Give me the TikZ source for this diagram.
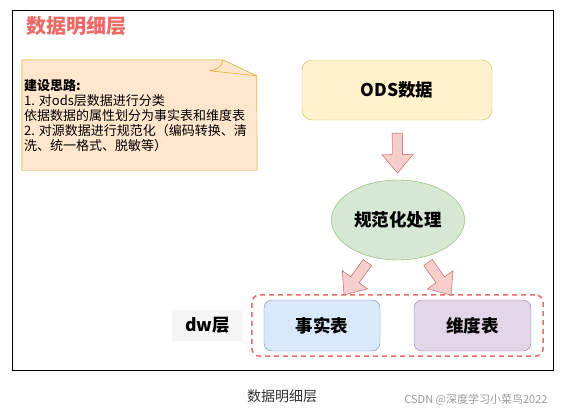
\documentclass[tikz,border=0pt]{standalone}
\usepackage{fontspec}
\setmainfont{Noto Sans CJK SC}
\usetikzlibrary{shapes.geometric,shapes.arrows,fit}

\definecolor{titlered}{HTML}{EA6B66}
\definecolor{notefill}{HTML}{FFE6CC}
\definecolor{noteline}{HTML}{D79B00}
\definecolor{odsfill}{HTML}{FFF2CC}
\definecolor{odsline}{HTML}{D6B656}
\definecolor{arrowfill}{HTML}{F8CECC}
\definecolor{arrowline}{HTML}{B85450}
\definecolor{procfill}{HTML}{D5E8D4}
\definecolor{procline}{HTML}{82B366}
\definecolor{factfill}{HTML}{DAE8FC}
\definecolor{factline}{HTML}{6C8EBF}
\definecolor{dimfill}{HTML}{E1D5E7}
\definecolor{dimline}{HTML}{9673A6}
\definecolor{dwfill}{HTML}{F5F5F5}
\definecolor{captext}{HTML}{333333}
\definecolor{markgray}{HTML}{999999}

\begin{document}
\begin{tikzpicture}[x=1pt,y=-1pt,
        box/.style={rounded corners=8pt,minimum width=116pt,minimum height=51pt,
            font=\bfseries\fontsize{17.5}{20}\selectfont},
        blockarrow/.style={single arrow,draw=arrowline,fill=arrowfill,
            minimum height=40pt,inner xsep=0pt,inner ysep=5pt,
            single arrow head extend=10.5pt,single arrow tip angle=80,
            sloped,allow upside down}]
    \useasboundingbox (0,0) rectangle (563,415);
    \draw [line width=1pt] (12,10) rectangle (553,370);

    \node [font=\bfseries\fontsize{20}{24}\selectfont,text=titlered] (title) at (77,26) {数据明细层};

    % note with folded corner
    \node [minimum width=235pt,minimum height=110pt,inner sep=0pt] (note) at (139.5,115) {};
    \filldraw [fill=notefill,draw=noteline] (note.north west) -- ++(201,0) coordinate (fold)
        -- ++(34,16) -- (note.south east) -- (note.south west) -- cycle;
    \draw [noteline] (fold) .. controls +(0,7) and +(6,-1) .. ++(-13,11) -- ++(47,5);
    \node [anchor=west,align=left,inner sep=0pt,font=\fontsize{13}{15}\selectfont] (notetext) at (24,116)
        {\textbf{建设思路:}\\1. 对ods层数据进行分类\\依据数据的属性划分为事实表和维度表\\2. 对源数据进行规范化（编码转换、清\\洗、统一格式、脱敏等）};

    \node [box,draw=odsline,fill=odsfill,minimum width=190pt,minimum height=60pt,rounded corners=10pt] (ods) at (397,90) {ODS数据};
    \node [ellipse,draw=procline,fill=procfill,minimum width=121pt,minimum height=80pt,
        font=\bfseries\fontsize{17.5}{20}\selectfont] (proc) at (398,220) {规范化处理};

    \node [box,draw=factline,fill=factfill] (fact) at (322,325.5) {事实表};
    \node [box,draw=dimline,fill=dimfill,minimum width=117pt] (dim) at (472.5,325.5) {维度表};
    \node [fit=(fact)(dim),inner xsep=12pt,inner ysep=5pt,draw=titlered,line width=1.5pt,
        dash pattern=on 5pt off 4pt,rounded corners=8pt] (dwgroup) {};
    \node [fill=dwfill,minimum width=71pt,minimum height=31pt,
        font=\bfseries\fontsize{17.5}{20}\selectfont] (dw) at (207.5,325.5) {dw层};

    \path (ods) -- node [blockarrow,pos=0.5] (a1) {} (proc);
    \path (proc) -- node [blockarrow,pos=0.45] (a2) {} (fact);
    \path (proc) -- node [blockarrow,pos=0.45] (a3) {} (dim);

    \node [font=\fontsize{14}{16}\selectfont,text=captext] (caption) at (282,396) {数据明细层};
    \node [font=\fontsize{11}{13}\selectfont,text=markgray] (mark) at (476,400) {CSDN @深度学习小菜鸟2022};
\end{tikzpicture}
\end{document}
